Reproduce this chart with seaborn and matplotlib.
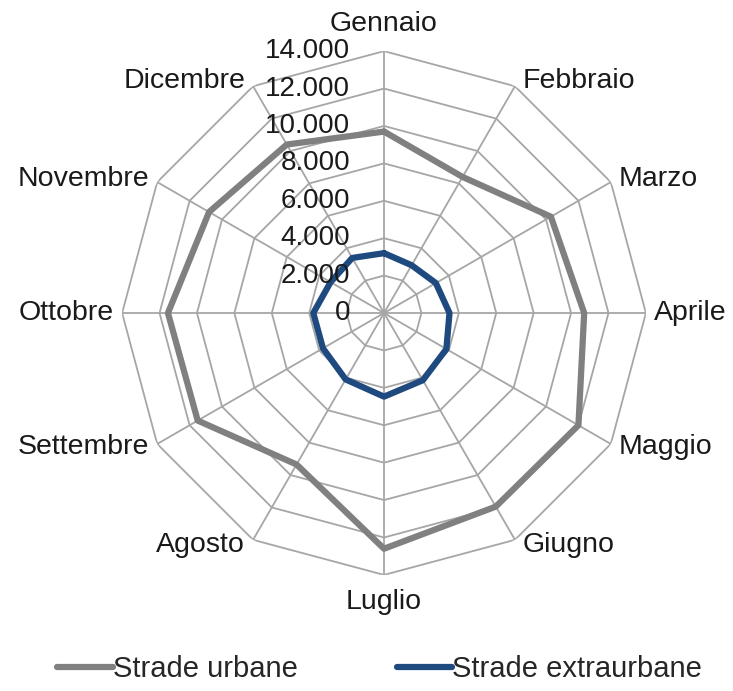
import numpy as np
import pandas as pd
import matplotlib
matplotlib.use("Agg")
import matplotlib.pyplot as plt
import seaborn as sns

# Monthly values for the two road types
months = ["Gennaio", "Febbraio", "Marzo", "Aprile", "Maggio", "Giugno",
          "Luglio", "Agosto", "Settembre", "Ottobre", "Novembre", "Dicembre"]
strade_urbane = [9700, 8400, 10300, 10700, 12000, 11950,
                 12600, 9350, 11500, 11550, 10800, 10400]
strade_extraurbane = [3200, 2950, 3200, 3500, 3850, 4150,
                      4470, 4100, 3770, 3780, 3300, 3400]
series_names = ["Strade urbane", "Strade extraurbane"]
radial_ticks = [0, 2000, 4000, 6000, 8000, 10000, 12000, 14000]
radial_labels = ["0", "2.000", "4.000", "6.000", "8.000", "10.000", "12.000", "14.000"]

sns.set_theme(style="white")
plt.rcParams["font.family"] = ["Liberation Sans", "DejaVu Sans"]

n = len(months)
angles = np.arange(n) * 2 * np.pi / n
closed = np.append(angles, angles[0])

# long-form table, each series closed back on its first month
rows = []
for name, vals in zip(series_names, [strade_urbane, strade_extraurbane]):
    for i in list(range(n)) + [0]:
        rows.append({"serie": name, "theta": angles[i], "valore": vals[i]})
df = pd.DataFrame(rows)

fig = plt.figure(figsize=(7.33, 6.91), dpi=100)
ax = fig.add_axes([0.1664, 0.168, 0.715, 0.758], projection="polar")
ax.set_theta_zero_location("N")
ax.set_theta_direction(-1)
ax.set_ylim(0, 14000)
ax.grid(False)
ax.spines["polar"].set_visible(False)
ax.set_xticks([])
ax.set_yticks([])

grid_color = "#a6a6a6"
# polygonal rings
for r in radial_ticks[1:]:
    ax.plot(closed, [r] * (n + 1), color=grid_color, lw=1.3, zorder=1)
# spokes
for a in angles:
    ax.plot([a, a], [0, 14000], color=grid_color, lw=1.3, zorder=1)

palette = {"Strade urbane": "#808080", "Strade extraurbane": "#1f4a80"}
sns.lineplot(data=df, x="theta", y="valore", hue="serie", palette=palette,
             sort=False, estimator=None, lw=4.5, ax=ax, legend=False, zorder=3)

# radial value labels to the left of the top spoke
for r, lab in zip(radial_ticks, radial_labels):
    ax.annotate(lab, xy=(0, r), xytext=(-34, 0), textcoords="offset pixels",
                ha="right", va="center", fontsize=20, color="#1a1a1a", zorder=4)

# month labels around the outer ring
for a, m in zip(angles, months):
    s, c = np.sin(a), np.cos(a)
    if abs(s) < 1e-6:
        ha = "center"
        va = "bottom" if c > 0 else "top"
        off = (0, 14 if c > 0 else -14)
    else:
        ha = "left" if s > 0 else "right"
        va = "center"
        off = (8 * np.sign(s), 6 * c)
    ax.annotate(m, xy=(a, 14000), xytext=off, textcoords="offset pixels",
                ha=ha, va=va, fontsize=20.5, color="#1a1a1a")

handles = [plt.Line2D([], [], color=palette[nm], lw=4.5) for nm in series_names]
fig.legend(handles, series_names, loc="center", bbox_to_anchor=(0.518, 0.032),
           ncol=2, frameon=False, fontsize=21, handlelength=1.9,
           handletextpad=0.0, columnspacing=3.4, borderpad=0.0)

fig.savefig("out.png", dpi=100)
